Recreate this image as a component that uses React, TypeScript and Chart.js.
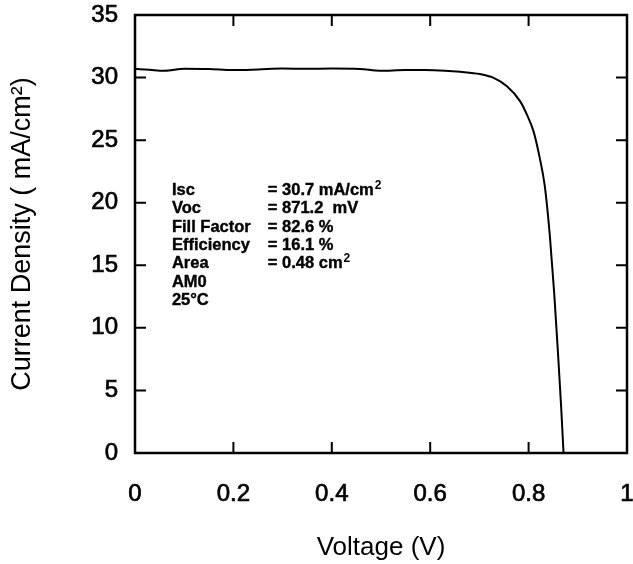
import React, { useEffect, useRef } from "react";
import { Chart, registerables } from "chart.js";

Chart.register(...registerables);

const voltage = [0, 0.03, 0.06, 0.1, 0.15, 0.2, 0.25, 0.3, 0.35, 0.4, 0.457, 0.498, 0.55, 0.589, 0.63, 0.661, 0.701, 0.728, 0.756, 0.783, 0.797, 0.81, 0.822, 0.833, 0.8435, 0.852, 0.86, 0.866, 0.871];
const current = [30.7, 30.62, 30.55, 30.7, 30.68, 30.6, 30.65, 30.72, 30.7, 30.72, 30.69, 30.55, 30.6, 30.6, 30.55, 30.46, 30.28, 29.99, 29.3, 28.1, 27.0, 25.7, 23.7, 21.3, 17.2, 12.8, 7.8, 3.8, 0];

const xTicks = [0, 0.2, 0.4, 0.6, 0.8, 1];
const xTickLabels = ["0", "0.2", "0.4", "0.6", "0.8", "1"];
const yTicks = [0, 5, 10, 15, 20, 25, 30, 35];
const yTickLabels = ["0", "5", "10", "15", "20", "25", "30", "35"];

const paramNames = ["Isc", "Voc", "Fill Factor", "Efficiency", "Area", "AM0", "25°C"];
const paramValues = ["= 30.7 mA/cm", "= 871.2  mV", "= 82.6 %", "= 16.1 %", "= 0.48 cm", "", ""];
const paramSupers = ["2", "", "", "", "2", "", ""];

const FONT = "'Liberation Sans', Arial, Helvetica, sans-serif";

const framePlugin = {
  id: "frame",
  afterDatasetsDraw(chart: any) {
    const { ctx, chartArea, scales } = chart;
    const { left, right, top, bottom } = chartArea;
    const tl = 11;
    ctx.save();
    ctx.strokeStyle = "#000";
    ctx.lineWidth = 2.5;
    ctx.strokeRect(left, top, right - left, bottom - top);
    ctx.lineWidth = 2;
    ctx.beginPath();
    xTicks.slice(1, -1).forEach((v) => {
      const px = scales.x.getPixelForValue(v);
      ctx.moveTo(px, bottom);
      ctx.lineTo(px, bottom - tl);
      ctx.moveTo(px, top);
      ctx.lineTo(px, top + tl);
    });
    yTicks.slice(1, -1).forEach((v) => {
      const py = scales.y.getPixelForValue(v);
      ctx.moveTo(left, py);
      ctx.lineTo(left + tl, py);
      ctx.moveTo(right, py);
      ctx.lineTo(right - tl, py);
    });
    ctx.stroke();
    ctx.restore();
  },
};

const notesPlugin = {
  id: "notes",
  afterDraw(chart: any) {
    const { ctx, scales } = chart;
    const x1 = scales.x.getPixelForValue(0.075);
    const x2 = scales.x.getPixelForValue(0.27);
    const y0 = scales.y.getPixelForValue(20.6);
    const step = scales.y.getPixelForValue(20.6 - 1.46) - y0;
    ctx.save();
    ctx.fillStyle = "#000";
    ctx.strokeStyle = "#000";
    ctx.lineWidth = 0.4;
    ctx.textBaseline = "alphabetic";
    ctx.textAlign = "left";
    paramNames.forEach((name, i) => {
      const y = y0 + step * i;
      ctx.font = `bold 16.5px ${FONT}`;
      ctx.fillText(name, x1, y);
      ctx.strokeText(name, x1, y);
      if (paramValues[i]) {
        ctx.fillText(paramValues[i], x2, y);
        ctx.strokeText(paramValues[i], x2, y);
        if (paramSupers[i]) {
          const w = ctx.measureText(paramValues[i]).width;
          ctx.font = `bold 12px ${FONT}`;
          ctx.fillText(paramSupers[i], x2 + w + 1, y - 6);
        }
      }
    });
    ctx.restore();
  },
};

const zeroPad = (s: any) => {
  s.paddingTop = 0;
  s.paddingBottom = 0;
  s.paddingLeft = 0;
  s.paddingRight = 0;
};

export default function App() {
  const ref = useRef<HTMLCanvasElement | null>(null);

  useEffect(() => {
    if (!ref.current) return;
    const chart = new Chart(ref.current, {
      type: "line",
      data: {
        datasets: [
          {
            data: voltage.map((v, i) => ({ x: v, y: current[i] })),
            borderColor: "#000",
            borderWidth: 2,
            pointRadius: 0,
            cubicInterpolationMode: "monotone",
            fill: false,
          },
        ],
      },
      options: {
        animation: false,
        responsive: true,
        maintainAspectRatio: false,
        layout: { padding: { top: 15, right: 6, left: 0, bottom: 0 } },
        plugins: { legend: { display: false }, tooltip: { enabled: false } },
        scales: {
          x: {
            type: "linear",
            min: 0,
            max: 1,
            grid: { display: false },
            border: { display: false },
            afterBuildTicks: (s: any) => {
              s.ticks = xTicks.map((v) => ({ value: v }));
            },
            afterFit: (s: any) => {
              s.height = 111;
              zeroPad(s);
            },
            ticks: {
              padding: 19,
              color: "#000",
              textStrokeColor: "#000",
              textStrokeWidth: 0.7,
              font: { family: FONT, size: 24 },
              maxRotation: 0,
              autoSkip: false,
              callback: (_v: any, i: number) => xTickLabels[i],
            },
            title: {
              display: true,
              text: "Voltage (V)",
              color: "#000",
              font: { family: FONT, size: 26 },
              padding: { top: 0, bottom: 1 },
            },
          },
          y: {
            type: "linear",
            min: 0,
            max: 35,
            grid: { display: false },
            border: { display: false },
            afterBuildTicks: (s: any) => {
              s.ticks = yTicks.map((v) => ({ value: v }));
            },
            afterFit: (s: any) => {
              s.width = 135;
              zeroPad(s);
            },
            ticks: {
              padding: 9,
              color: "#000",
              textStrokeColor: "#000",
              textStrokeWidth: 0.7,
              font: { family: FONT, size: 24 },
              autoSkip: false,
              callback: (_v: any, i: number) => yTickLabels[i],
            },
            title: {
              display: true,
              text: "Current Density ( mA/cm²)",
              color: "#000",
              font: { family: FONT, size: 27 },
              padding: { top: 6, bottom: 0 },
            },
          },
        },
      },
      plugins: [framePlugin, notesPlugin],
    } as any);
    return () => chart.destroy();
  }, []);

  return (
    <div style={{ position: "fixed", left: 0, top: 0, width: 633, height: 564, background: "#fff" }}>
      <canvas ref={ref} />
    </div>
  );
}
